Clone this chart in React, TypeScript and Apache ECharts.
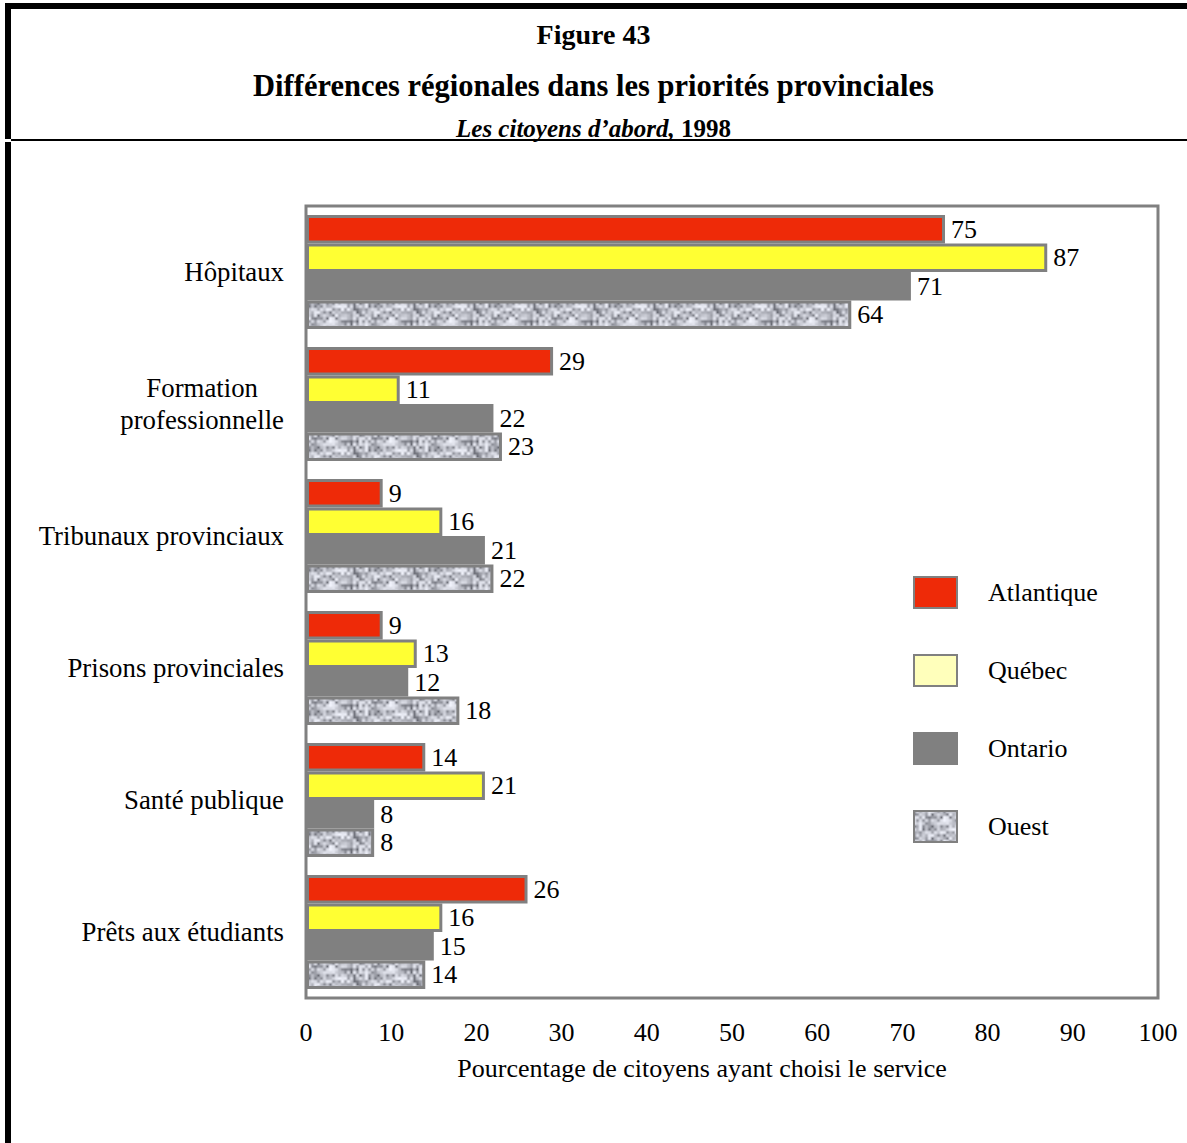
import React, { useEffect, useRef } from "react";
import * as echarts from "echarts";

const categories = [
  "Hôpitaux",
  "Formation\nprofessionnelle",
  "Tribunaux provinciaux",
  "Prisons provinciales",
  "Santé publique",
  "Prêts aux étudiants",
];
const seriesNames = ["Atlantique", "Québec", "Ontario", "Ouest"];
const atlantique = [75, 29, 9, 9, 14, 26];
const quebec = [87, 11, 16, 13, 21, 16];
const ontario = [71, 22, 21, 12, 8, 15];
const ouest = [64, 23, 22, 18, 8, 14];
const xMin = 0;
const xMax = 100;
const xInterval = 10;

const FONT = '"Liberation Serif", "Times New Roman", serif';
const FS = 26;
const CAT_FS = 26.8;

function makeTexture(): HTMLCanvasElement {
  const w = 60;
  const h = 24;
  const cell = 3;
  const gw = w / cell;
  const gh = h / cell;
  const c = document.createElement("canvas");
  c.width = w;
  c.height = h;
  const ctx = c.getContext("2d")!;
  let s = 987654;
  const rnd = () => {
    s = (s * 1103515245 + 12345) & 0x7fffffff;
    return s / 0x7fffffff;
  };
  const g: number[] = [];
  for (let i = 0; i < gw * gh; i++) g.push(rnd());
  const at = (i: number, j: number) => g[((j + gh) % gh) * gw + ((i + gw) % gw)];
  const img = ctx.createImageData(w, h);
  for (let y = 0; y < h; y++) {
    for (let x = 0; x < w; x++) {
      const fx = x / cell;
      const fy = y / cell;
      const i = Math.floor(fx);
      const j = Math.floor(fy);
      const tx = fx - i;
      const ty = fy - j;
      const sx = tx * tx * (3 - 2 * tx);
      const sy = ty * ty * (3 - 2 * ty);
      const a = at(i, j) * (1 - sx) + at(i + 1, j) * sx;
      const b = at(i, j + 1) * (1 - sx) + at(i + 1, j + 1) * sx;
      let v = a * (1 - sy) + b * sy;
      v = Math.pow(v, 0.55);
      const lum = 95 + 150 * v;
      const p = (y * w + x) * 4;
      img.data[p] = Math.min(255, lum - 4);
      img.data[p + 1] = Math.min(255, lum - 2);
      img.data[p + 2] = Math.min(255, lum + 7);
      img.data[p + 3] = 255;
    }
  }
  ctx.putImageData(img, 0, 0);
  return c;
}

export default function App() {
  const ref = useRef<HTMLDivElement>(null);

  useEffect(() => {
    if (!ref.current) return;
    const chart = echarts.init(ref.current, undefined, { renderer: "svg" });
    const tex = makeTexture();
    const texture: any = {
      image: tex,
      repeat: "repeat",
      imageWidth: tex.width,
      imageHeight: tex.height,
    };
    const colors = ["#ee2a08", "#ffff33", "#808080", texture];
    const values = [atlantique, quebec, ontario, ouest];
    const legendColors = ["#ee2a08", "#ffffbb", "#808080", texture];

    const option: any = {
      animation: false,
      backgroundColor: "#ffffff",
      title: [
        {
          text: "Figure 43",
          left: "center",
          top: 20,
          padding: 0,
          textStyle: { fontFamily: FONT, fontSize: 28, fontWeight: "bold", color: "#000", lineHeight: 28 },
        },
        {
          text: "Différences régionales dans les priorités provinciales",
          left: "center",
          top: 71,
          padding: 0,
          textStyle: { fontFamily: FONT, fontSize: 30.5, fontWeight: "bold", color: "#000", lineHeight: 30 },
        },
        {
          text: "{i|Les citoyens d’abord,} {b|1998}",
          left: "center",
          top: 116,
          padding: 0,
          textStyle: {
            fontFamily: FONT,
            fontSize: 25,
            color: "#000",
            rich: {
              i: { fontFamily: FONT, fontSize: 25, fontWeight: "bold", fontStyle: "italic", color: "#000", lineHeight: 25 },
              b: { fontFamily: FONT, fontSize: 25, fontWeight: "bold", color: "#000", lineHeight: 25 },
            },
          },
        },
      ],
      graphic: [
        { type: "rect", shape: { x: 5, y: 3, width: 1182, height: 6 }, style: { fill: "#000" }, silent: true },
        { type: "rect", shape: { x: 5, y: 3, width: 6, height: 136 }, style: { fill: "#000" }, silent: true },
        { type: "rect", shape: { x: 11, y: 139, width: 1176, height: 2 }, style: { fill: "#000" }, silent: true },
        { type: "rect", shape: { x: 5, y: 142, width: 6, height: 1001 }, style: { fill: "#000" }, silent: true },
      ],
      legend: {
        orient: "vertical",
        left: 913,
        top: 576,
        padding: 0,
        itemWidth: 43,
        itemHeight: 31,
        itemGap: 45,
        icon: "rect",
        textStyle: { fontFamily: FONT, fontSize: FS, color: "#000", padding: [0, 0, 0, 26] },
        data: seriesNames.map((n, i) => ({
          name: n,
          itemStyle: { color: legendColors[i], borderColor: "#808080", borderWidth: 2 },
        })),
      },
      grid: {
        left: 306,
        top: 206,
        width: 852,
        height: 792,
        show: true,
        borderColor: "#808080",
        borderWidth: 3,
        backgroundColor: "transparent",
        containLabel: false,
      },
      xAxis: {
        type: "value",
        min: xMin,
        max: xMax,
        interval: xInterval,
        axisLine: { show: false },
        axisTick: { show: false },
        splitLine: { show: false },
        axisLabel: { fontFamily: FONT, fontSize: FS, color: "#000", margin: 21 },
        name: "Pourcentage de citoyens ayant choisi le service",
        nameLocation: "middle",
        nameGap: 57,
        nameTextStyle: { fontFamily: FONT, fontSize: FS, color: "#000", padding: [0, 60, 0, 0] },
      },
      yAxis: {
        type: "category",
        inverse: true,
        data: categories,
        axisLine: { show: false },
        axisTick: { show: false },
        splitLine: { show: false },
        axisLabel: {
          margin: 22,
          fontFamily: FONT,
          fontSize: CAT_FS,
          color: "#000",
          formatter: (v: string) => v.split("\n").map((s) => `{c|${s}}`).join("\n"),
          rich: { c: { fontFamily: FONT, fontSize: CAT_FS, color: "#000", align: "center", lineHeight: 32 } },
        },
      },
      series: seriesNames.map((n, i) => ({
        name: n,
        type: "bar",
        data: values[i],
        barGap: "0%",
        barCategoryGap: "13.6%",
        itemStyle: { color: colors[i], borderColor: "#808080", borderWidth: 3 },
        label: {
          show: true,
          position: "right",
          distance: 6,
          fontFamily: FONT,
          fontSize: FS,
          color: "#000",
        },
      })),
    };
    chart.setOption(option);
    return () => chart.dispose();
  }, []);

  return (
    <div
      ref={ref}
      style={{ position: "fixed", left: 0, top: 0, width: 1187, height: 1143, background: "#fff" }}
    />
  );
}
